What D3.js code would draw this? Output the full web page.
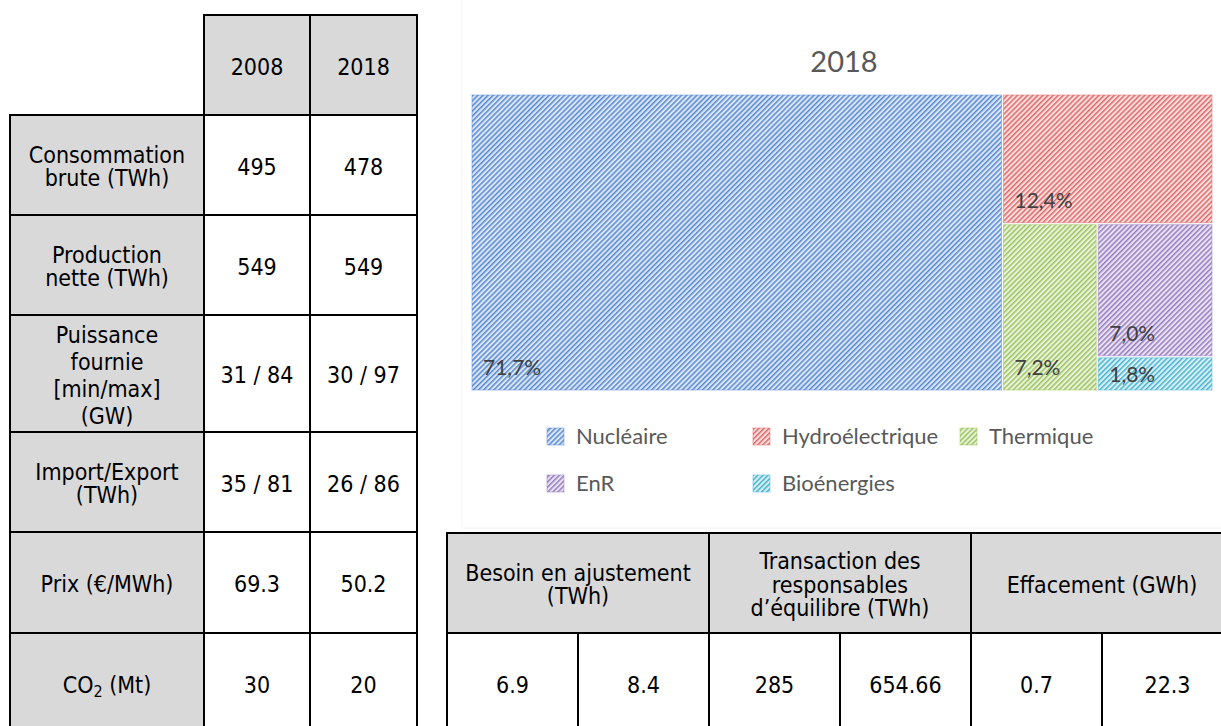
<!DOCTYPE html>
<html>
<head>
<meta charset="utf-8">
<script src="https://cdn.jsdelivr.net/npm/d3@7"></script>
<style>
  html, body { margin: 0; padding: 0; background: #ffffff; }
  svg { display: block; }
  .tbl { font-family: "DejaVu Sans Condensed", "DejaVu Sans", sans-serif; font-stretch: condensed; font-size: 23px; fill: #000; }
  .chart { font-family: Lato, "Open Sans", sans-serif; }
</style>
</head>
<body>
<svg id="root" width="1221" height="726"></svg>
<script>
// ---------------- DATA ----------------
const years = ["2008", "2018"];
const rowLabels = [
  ["Consommation", "brute (TWh)"],
  ["Production", "nette (TWh)"],
  ["Puissance", "fournie", "[min/max]", "(GW)"],
  ["Import/Export", "(TWh)"],
  ["Prix (€/MWh)"],
  ["CO₂ (Mt)"]
];
const values2008 = ["495", "549", "31 / 84", "35 / 81", "69.3", "30"];
const values2018 = ["478", "549", "30 / 97", "26 / 86", "50.2", "20"];

const bottomHeaders = [
  ["Besoin en ajustement", "(TWh)"],
  ["Transaction des", "responsables", "d’équilibre (TWh)"],
  ["Effacement (GWh)"]
];
const bottomValues = ["6.9", "8.4", "285", "654.66", "0.7", "22.3"];

const chartTitle = "2018";
const categories = ["Nucléaire", "Hydroélectrique", "Thermique", "EnR", "Bioénergies"];
const shares = [71.7, 12.4, 7.2, 7.0, 1.8];
const legendRows = [["Nucléaire", "Hydroélectrique", "Thermique"], ["EnR", "Bioénergies"]];

// ---------------- STYLE ----------------
const hatch = {
  "Nucléaire":       { fg: "#5b8ad0", bg: "#d9e6f7" },
  "Hydroélectrique": { fg: "#df6a6a", bg: "#fadede" },
  "Thermique":       { fg: "#9cc462", bg: "#e9f2da" },
  "EnR":             { fg: "#977ec0", bg: "#e9e1f3" },
  "Bioénergies":     { fg: "#4bb4cf", bg: "#d7f0f7" }
};

const svg = d3.select("#root");
const defs = svg.append("defs");
categories.forEach((c, i) => {
  const p = defs.append("pattern")
    .attr("id", "hatch" + i)
    .attr("patternUnits", "userSpaceOnUse")
    .attr("width", 3.6).attr("height", 3.6)
    .attr("patternTransform", "rotate(45)");
  p.append("rect").attr("width", 3.6).attr("height", 3.6).attr("fill", hatch[c].bg);
  p.append("rect").attr("width", 1.5).attr("height", 3.6).attr("fill", hatch[c].fg);
});

// ---------------- TABLE HELPERS ----------------
const LINE = "#000";
const LW = 2;
function cell(g, x0, x1, y0, y1, fill) {
  g.append("rect").attr("x", x0).attr("y", y0).attr("width", x1 - x0).attr("height", y1 - y0)
    .attr("fill", fill);
}
function lines(g, x0, x1, y0, y1, lines, spacing) {
  const cx = (x0 + x1) / 2, cy = (y0 + y1) / 2;
  const n = lines.length;
  const first = cy + 9.5 - (n - 1) * spacing / 2;
  lines.forEach((t, i) => {
    const txt = g.append("text").attr("class", "tbl").attr("x", cx).attr("y", first + i * spacing)
      .attr("text-anchor", "middle");
    if (t.includes("₂")) {
      const parts = t.split("₂");
      txt.append("tspan").text(parts[0]);
      txt.append("tspan").attr("font-size", 16).attr("dy", 4).text("2");
      txt.append("tspan").attr("dy", -4).text(parts[1]);
    } else {
      txt.text(t);
    }
  });
}
function hline(g, x0, x1, y) {
  g.append("line").attr("x1", x0 - 1).attr("x2", x1 + 1).attr("y1", y).attr("y2", y)
    .attr("stroke", LINE).attr("stroke-width", LW);
}
function vline(g, x, y0, y1) {
  g.append("line").attr("x1", x).attr("x2", x).attr("y1", y0 - 1).attr("y2", y1 + 1)
    .attr("stroke", LINE).attr("stroke-width", LW);
}

// ---------------- LEFT TABLE ----------------
const L = svg.append("g");
const lx = [10, 204, 310, 417];
const ly = [15, 115, 215, 315, 432, 532, 633, 734];
const GREY = "#d9d9d9";
years.forEach((y, j) => {
  cell(L, lx[j + 1], lx[j + 2], ly[0], ly[1], GREY);
  lines(L, lx[j + 1], lx[j + 2], ly[0], ly[1], [y], 23);
});
rowLabels.forEach((lab, i) => {
  cell(L, lx[0], lx[1], ly[i + 1], ly[i + 2], GREY);
  lines(L, lx[0], lx[1], ly[i + 1], ly[i + 2], lab, lab.length > 2 ? 27 : 23.5);
  cell(L, lx[1], lx[2], ly[i + 1], ly[i + 2], "#fff");
  lines(L, lx[1], lx[2], ly[i + 1], ly[i + 2], [values2008[i]], 23);
  cell(L, lx[2], lx[3], ly[i + 1], ly[i + 2], "#fff");
  lines(L, lx[2], lx[3], ly[i + 1], ly[i + 2], [values2018[i]], 23);
});
hline(L, lx[1], lx[3], ly[0]);
for (let i = 1; i < ly.length; i++) hline(L, lx[0], lx[3], ly[i]);
vline(L, lx[0], ly[1], ly[ly.length - 1]);
for (let j = 1; j < lx.length; j++) vline(L, lx[j], ly[0], ly[ly.length - 1]);

// ---------------- BOTTOM TABLE ----------------
const B = svg.append("g");
const bx = [447, 578, 709, 840, 971, 1102, 1233];
const by = [533, 633, 734];
bottomHeaders.forEach((h, k) => {
  cell(B, bx[2 * k], bx[2 * k + 2], by[0], by[1], GREY);
  lines(B, bx[2 * k], bx[2 * k + 2], by[0], by[1], h, 23.5);
});
bottomValues.forEach((v, k) => {
  cell(B, bx[k], bx[k + 1], by[1], by[2], "#fff");
  lines(B, bx[k], bx[k + 1], by[1], by[2], [v], 23);
});
by.forEach(y => hline(B, bx[0], bx[6], y));
[0, 2, 4, 6].forEach(k => vline(B, bx[k], by[0], by[2]));
[1, 3, 5].forEach(k => vline(B, bx[k], by[1], by[2]));

// ---------------- TREEMAP CHART ----------------
const C = svg.append("g").attr("class", "chart");
C.append("rect").attr("x", 462).attr("y", -2).attr("width", 800).attr("height", 530)
  .attr("fill", "none").attr("stroke", "#f4f4f4").attr("stroke-width", 1);

C.append("text").attr("x", 844).attr("y", 72).attr("text-anchor", "middle")
  .attr("font-size", 29).attr("fill", "#595959").text(chartTitle);

const TX = 472, TY = 95, TW = 740, TH = 295;
const root = d3.hierarchy({ children: categories.map((c, i) => ({ name: c, value: shares[i], idx: i })) })
  .sum(d => d.value || 0);
d3.treemap().size([TW, TH]).tile(d3.treemapSquarify.ratio(1)).paddingInner(2).round(false)(root);

const fr = d3.formatLocale({ decimal: ",", thousands: " ", grouping: [3], currency: ["", "€"] });
const pct = fr.format(".1f");

const tg = C.append("g").attr("transform", `translate(${TX},${TY})`);
const leaves = tg.selectAll("g.leaf").data(root.leaves()).join("g").attr("class", "leaf");
leaves.append("rect")
  .attr("x", d => d.x0).attr("y", d => d.y0)
  .attr("width", d => d.x1 - d.x0).attr("height", d => d.y1 - d.y0)
  .attr("fill", d => `url(#hatch${d.data.idx})`)
  .attr("stroke", d => hatch[d.data.name].fg).attr("stroke-opacity", 0.5).attr("stroke-width", 1);
leaves.append("text")
  .attr("x", d => d.x0 + 11)
  .attr("y", d => (d.y1 - d.y0) < 50 ? (d.y0 + d.y1) / 2 + 8 : d.y1 - 15)
  .attr("font-size", 21).attr("fill", "#404040")
  .text(d => pct(d.data.value) + "%");

// legend
const legX = [547, 753, 960];
const legY = [428, 475];
const lg = C.append("g");
legendRows.forEach((row, r) => {
  row.forEach((name, c) => {
    const i = categories.indexOf(name);
    lg.append("rect").attr("x", legX[c]).attr("y", legY[r]).attr("width", 17).attr("height", 17)
      .attr("fill", `url(#hatch${i})`)
      .attr("stroke", hatch[name].fg).attr("stroke-opacity", 0.5).attr("stroke-width", 1);
    lg.append("text").attr("x", legX[c] + 29).attr("y", legY[r] + 16)
      .attr("font-size", 22).attr("fill", "#595959").text(name);
  });
});
</script>
</body>
</html>
